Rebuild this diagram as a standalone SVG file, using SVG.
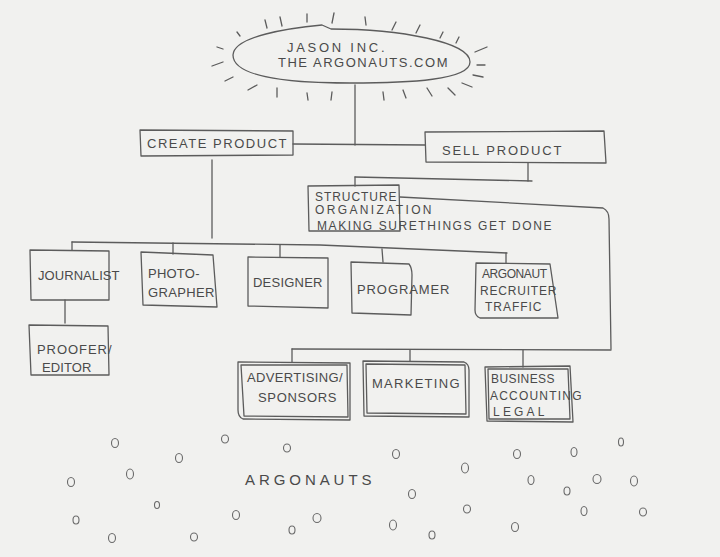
<svg xmlns="http://www.w3.org/2000/svg" width="720" height="557" viewBox="0 0 720 557">
<style>
.p{fill:none;stroke:#5c5c5c;stroke-width:1.3;stroke-linecap:round;stroke-linejoin:round}
.t{font-family:"Liberation Sans",Arial,sans-serif;font-size:13px;fill:#4a4a4a;letter-spacing:0.5px}
.s{font-size:12px}
.d{fill:none;stroke:#6a6a6a;stroke-width:1.1}
</style>
<rect width="720" height="557" fill="#f1f1ef"/>

<g id="connectors" class="p">
<path d="M355,85 L355,145"/>
<path d="M293,144 L425,145"/>
<path d="M212,160 L212,238"/>
<path d="M528,163 L528,181"/>
<path d="M355,177 L532,181"/>
<path d="M355,177 L355,186"/>
<path d="M72,242 L320,245 L507,253"/>
<path d="M72,242 L72,250"/>
<path d="M173,243 L173,254"/>
<path d="M280,245 L280,257"/>
<path d="M382,249 L383,262"/>
<path d="M506,253 L506,263"/>
<path d="M65,300 L65,323"/>
<path d="M292,349 L611,350"/>
<path d="M292,349 L292,362"/>
<path d="M410,350 L410,361"/>
<path d="M523,350 L523,367"/>
</g>

<g id="jason">
<path class="p" d="M233,55 C234,36 290,28 322,25 L331,29 C400,29 470,42 470,62 C470,80 410,83 350,83 C280,83 233,75 233,55 Z"/>
<path class="p" d="M265,20 L267,28 M280,17 L282,26 M307,14 L307,22 M334,13 L332,23 M365,17 L366,25 M396,22 L392,30 M420,25 L416,33 M443,32 L440,38 M459,37 L456,43 M237,32 L240,36 M217,47 L223,49 M212,66 L223,62 M225,81 L233,77 M248,90 L257,85 M277,88 L277,97 M307,93 L308,100 M332,92 L331,100 M383,92 L384,100 M403,90 L406,98 M427,88 L432,96 M448,88 L455,95 M475,52 L487,47 M477,65 L485,65 M473,75 L483,77 M462,83 L472,87"/>
<text class="t" x="287" y="52" textLength="98">JASON INC.</text>
<text class="t" x="278" y="67" textLength="170">THE ARGONAUTS.COM</text>
</g>

<g id="create">
<path class="p" d="M140,130 L293,131 L293,155 L141,156 Z"/>
<text class="t" x="147" y="148" textLength="140">CREATE PRODUCT</text>
</g>

<g id="sell">
<path class="p" d="M425,132 L604,131 L606,163 L426,162 Z"/>
<text class="t" x="442" y="155" textLength="120">SELL PRODUCT</text>
</g>

<g id="structure">
<path class="p" d="M308,186 L399,185 L400,231 L309,231 Z"/>
<path class="p" d="M400,197 L603,208 Q609,211 609,219 L611,349"/>
<text class="t s" x="315" y="201" textLength="82">STRUCTURE</text>
<text class="t s" x="315" y="214" textLength="117">ORGANIZATION</text>
<text class="t s" x="317" y="230" textLength="235">MAKING SURETHINGS GET DONE</text>
</g>

<g id="journalist">
<path class="p" d="M30,250 L109,251 L109,300 L31,300 Z"/>
<text class="t" x="38" y="280" textLength="82">JOURNALIST</text>
</g>

<g id="photographer">
<path class="p" d="M141,252 L213,255 L217,307 L143,305 Z"/>
<text class="t" x="148" y="278" textLength="52">PHOTO-</text>
<text class="t" x="148" y="297" textLength="67">GRAPHER</text>
</g>

<g id="designer">
<path class="p" d="M248,257 L328,258 L328,308 L248,306 Z"/>
<text class="t" x="253" y="287" textLength="70">DESIGNER</text>
</g>

<g id="programer">
<path class="p" d="M351,262 L409,264 Q412,268 412,275 L411,315 L352,313 Z"/>
<text class="t" x="357" y="294" textLength="93">PROGRAMER</text>
</g>

<g id="argonaut">
<path class="p" d="M476,263 L550,264 L558,318 L480,318 Q475,316 475,310 Z"/>
<text class="t s" x="482" y="278" textLength="65" style="letter-spacing:0">ARGONAUT</text>
<text class="t s" x="480" y="295" textLength="77">RECRUITER</text>
<text class="t s" x="485" y="311" textLength="57">TRAFFIC</text>
</g>

<g id="proofer">
<path class="p" d="M29,325 L108,326 L109,375 L31,375 Z"/>
<text class="t" x="37" y="354" textLength="75">PROOFER/</text>
<text class="t" x="42" y="372" textLength="50">EDITOR</text>
</g>

<g id="advertising">
<path class="p" d="M238,362 L350,363 L350,420 L243,419 Q238,417 238,410 Z"/>
<path class="p" d="M241,365 L347,365 L348,417 L244,416 Z"/>
<text class="t" x="247" y="382" textLength="96">ADVERTISING/</text>
<text class="t" x="258" y="402" textLength="79">SPONSORS</text>
</g>

<g id="marketing">
<path class="p" d="M363,361 L464,362 Q469,364 469,370 L469,417 L364,416 Z"/>
<path class="p" d="M366,364 L465,365 L466,414 L367,413 Z"/>
<text class="t" x="372" y="388" textLength="88">MARKETING</text>
</g>

<g id="business">
<path class="p" d="M485,367 L570,366 L573,422 L487,421 Z"/>
<path class="p" d="M488,369 L568,369 L570,419 L489,419 Z"/>
<text class="t s" x="491" y="383" textLength="64">BUSINESS</text>
<text class="t s" x="490" y="400" textLength="92">ACCOUNTING</text>
<text class="t s" x="493" y="416" textLength="52">LEGAL</text>
</g>

<g id="argonauts">
<text class="t" x="245" y="485" textLength="127" style="font-size:15px">ARGONAUTS</text>
<g class="d">
<ellipse cx="115" cy="443" rx="3.5" ry="4.5"/>
<ellipse cx="225" cy="439" rx="3.5" ry="4"/>
<ellipse cx="287" cy="448" rx="3.5" ry="4"/>
<ellipse cx="179" cy="458" rx="3.5" ry="4.5"/>
<ellipse cx="396" cy="454" rx="3.5" ry="4.5"/>
<ellipse cx="517" cy="454" rx="3.5" ry="4.5"/>
<ellipse cx="574" cy="452" rx="3" ry="4.5"/>
<ellipse cx="621" cy="442" rx="2.5" ry="4"/>
<ellipse cx="130" cy="474" rx="3.5" ry="5"/>
<ellipse cx="71" cy="482" rx="3.5" ry="4.5"/>
<ellipse cx="465" cy="468" rx="3.5" ry="5"/>
<ellipse cx="531" cy="480" rx="3" ry="4.5"/>
<ellipse cx="597" cy="479" rx="4" ry="4.5"/>
<ellipse cx="634" cy="481" rx="3.5" ry="5"/>
<ellipse cx="567" cy="491" rx="3" ry="4"/>
<ellipse cx="412" cy="494" rx="3.5" ry="4.5"/>
<ellipse cx="157" cy="505" rx="2.5" ry="3.5"/>
<ellipse cx="236" cy="515" rx="3.5" ry="4.5"/>
<ellipse cx="317" cy="518" rx="4" ry="4.5"/>
<ellipse cx="76" cy="520" rx="3" ry="4"/>
<ellipse cx="467" cy="509" rx="3.5" ry="4"/>
<ellipse cx="584" cy="511" rx="3" ry="4.5"/>
<ellipse cx="643" cy="512" rx="3.5" ry="4"/>
<ellipse cx="393" cy="525" rx="3.5" ry="5"/>
<ellipse cx="515" cy="527" rx="3.5" ry="4.5"/>
<ellipse cx="292" cy="530" rx="3" ry="4"/>
<ellipse cx="112" cy="538" rx="3.5" ry="4.5"/>
<ellipse cx="194" cy="537" rx="3.5" ry="4"/>
<ellipse cx="432" cy="535" rx="3" ry="4"/>
</g>
</g>
</svg>
